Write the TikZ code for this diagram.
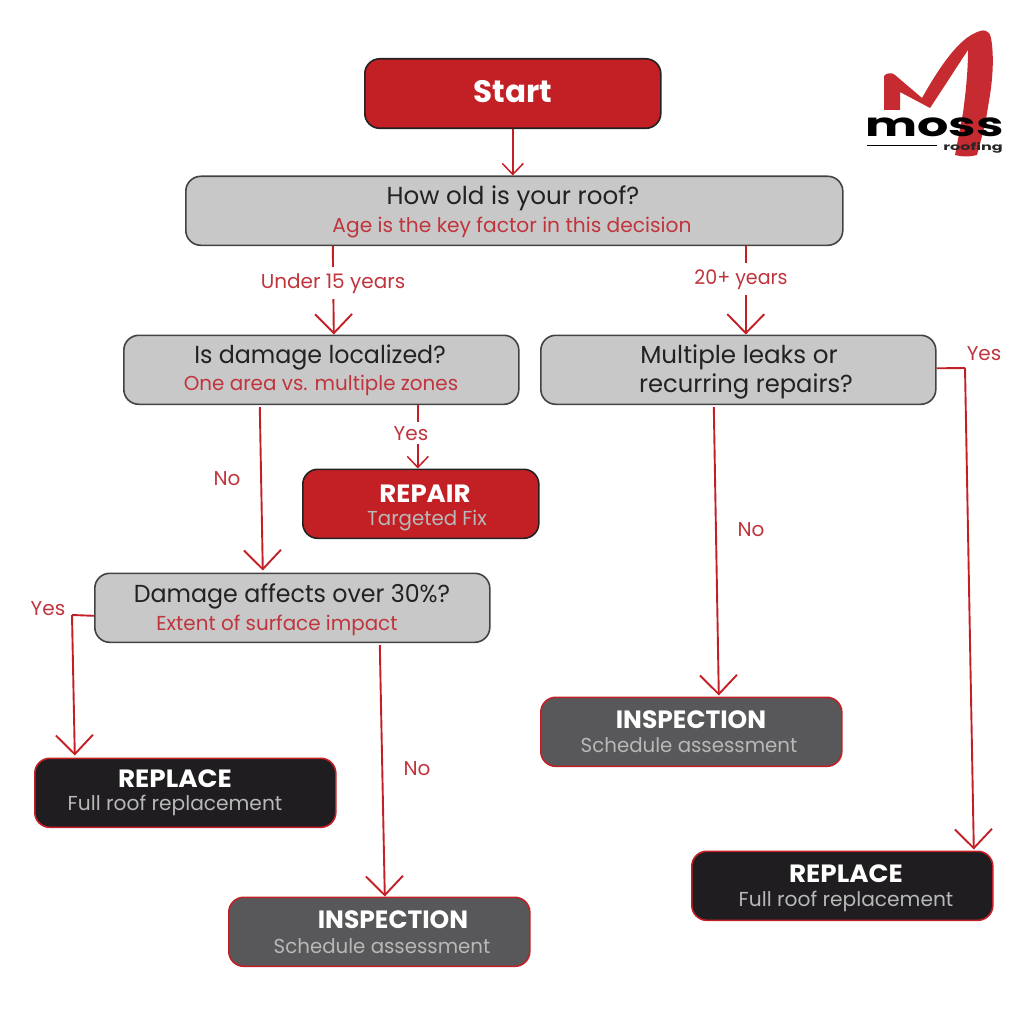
\documentclass[tikz,border=0pt]{standalone}
\usepackage{fontspec}
\setmainfont{Poppins}
\usetikzlibrary{arrows.meta,calc}
\definecolor{rd}{HTML}{C32026}
\definecolor{lab}{HTML}{C0353D}
\definecolor{gr}{HTML}{C8C8C8}
\definecolor{dk}{HTML}{1F1D20}
\definecolor{md}{HTML}{58585A}
\definecolor{ink}{HTML}{222222}
\newcommand{\fs}[1]{\fontsize{#1}{#1}\selectfont}
\tikzset{
 x=1pt,y=-1pt,
 box/.style={rounded corners=15pt,line width=1.6pt,inner sep=0pt,anchor=north west},
 startbox/.style={box,fill=rd,draw=ink},
 qbox/.style={box,fill=gr,draw=ink!85},
 repbox/.style={box,fill=dk,draw=rd},
 insbox/.style={box,fill=md,draw=rd},
 head/.style={font=\fs{24.6},text=ink,inner sep=0pt,anchor=base},
 sub/.style={font=\fs{20.2},text=lab,inner sep=0pt,anchor=base},
 tit/.style={font=\fs{25}\bfseries,text=white,inner sep=0pt,anchor=base},
 dsc/.style={font=\fs{20.2},text=white!72!black,inner sep=0pt,anchor=base},
 lbl/.style={font=\fs{20},text=lab,inner sep=0pt,anchor=base},
 big/.style={draw=rd,line width=1.9pt,-{Straight Barb[length=19pt,width=37pt,line width=1.9pt]}},
 small/.style={draw=rd,line width=1.5pt,-{Straight Barb[length=11pt,width=21pt,line width=1.5pt]}},
 plain/.style={draw=rd,line width=1.9pt},
 gap/.style={fill=white,inner xsep=2pt,inner ysep=6pt},
}
\begin{document}
\begin{tikzpicture}
\useasboundingbox (0,0) rectangle (1024,1024);
% boxes
\node[startbox,minimum width=296pt,minimum height=69.5pt] (start) at (364,58) {};
\node[qbox,minimum width=657pt,minimum height=69pt] (q1) at (185,175.5) {};
\node[qbox,minimum width=395pt,minimum height=69pt] (q2) at (123,334.5) {};
\node[qbox,minimum width=395pt,minimum height=69pt] (q3) at (540,334.5) {};
\node[startbox,minimum width=236pt,minimum height=69pt] (repair) at (302,468.5) {};
\node[qbox,minimum width=395pt,minimum height=69pt] (q4) at (94,572.5) {};
\node[repbox,minimum width=301pt,minimum height=69pt] (rep1) at (34,757.5) {};
\node[insbox,minimum width=301pt,minimum height=69pt] (ins2) at (540,696.5) {};
\node[insbox,minimum width=301pt,minimum height=69pt] (ins1) at (228,896.5) {};
\node[repbox,minimum width=301pt,minimum height=69pt] (rep2) at (691,850.5) {};
% bend points
\coordinate (b1) at (965,368);
\coordinate (b2) at (72,615);
% connectors
\draw[small] (start.south) -- (start.south |- q1.north);
\draw[big] ([xshift=-181.5pt]q1.south) -- ([xshift=-180.5pt]q1.south |- q2.north);
\draw[big] ([xshift=231.5pt]q1.south) -- ([xshift=231.5pt]q1.south |- q3.north);
\draw[big] ([xshift=-61.5pt,yshift=-2pt]q2.south) -- ([xshift=-58.5pt,yshift=2pt]q2.south |- q4.north);
\draw[small] ([xshift=96.5pt]q2.south) -- ([xshift=96.5pt]q2.south |- repair.north);
\draw[big] ([xshift=-24.5pt,yshift=-2pt]q3.south) -- ([xshift=-19.5pt,yshift=1pt]q3.south |- ins2.north);
\draw[plain] ([yshift=1.5pt]q3.east) -- (b1);
\draw[big] (b1) -- ([xshift=131.5pt,yshift=1pt]rep2.north);
\draw[plain] ([yshift=-8pt]q4.west) -- (b2);
\draw[big] (b2) -- ([xshift=-110.5pt,yshift=2pt]rep1.north);
\draw[big] ([xshift=87.5pt,yshift=-2pt]q4.south) -- ([xshift=5.5pt]ins1.north);
% connector labels
\node[lbl,gap] (l1) at (333,288) {Under 15 years};
\node[lbl,gap,xscale=.95] (l2) at (741,284) {20+ years};
\node[lbl] (l3) at (227,485) {No};
\node[lbl,gap,inner ysep=4pt] (l4) at (411,440) {Yes};
\node[lbl] (l5) at (751,536) {No};
\node[lbl] (l6) at (984,360) {Yes};
\node[lbl] (l7) at (48,615) {Yes};
\node[lbl] (l8) at (417,775) {No};
% texts
\node[font=\fs{31}\bfseries,text=white,inner sep=0pt,anchor=base] (t0) at (513,103) {Start};
\node[head] (t1) at (513,205) {How old is your roof?};
\node[sub] (s1) at (512,233) {Age is the key factor in this decision};
\node[head,xscale=.965] (t2) at (320,363) {Is damage localized?};
\node[sub,xscale=.985] (s2) at (321,390) {One area vs. multiple zones};
\node[head] (t3) at (739,363) {Multiple leaks or};
\node[head,xscale=.985] (s3) at (746,392) {recurring repairs?};
\node[tit,xscale=1.04] (t4) at (425,502) {REPAIR};
\node[dsc,xscale=.98] (s4) at (427,525) {Targeted Fix};
\node[head,xscale=.965] (t5) at (292,602) {Damage affects over 30\%?};
\node[sub,xscale=.985] (s5) at (277,630) {Extent of surface impact};
\node[tit,xscale=1.05] (t6) at (175,787) {REPLACE};
\node[dsc] (s6) at (175,810) {Full roof replacement};
\node[tit] (t7) at (691,728) {INSPECTION};
\node[dsc,xscale=.98] (s7) at (689,752) {Schedule assessment};
\node[tit] (t8) at (393,928) {INSPECTION};
\node[dsc,xscale=.98] (s8) at (382,953) {Schedule assessment};
\node[tit,xscale=1.05] (t9) at (846,882) {REPLACE};
\node[dsc] (s9) at (846,906) {Full roof replacement};
% logo
\fill[rd!95!white] (884,76) .. controls (886,73) and (892,72) .. (895,75) -- (922,98)
 .. controls (935,75) and (955,42) .. (975,33) .. controls (983,29) and (989,29) .. (991,38)
 .. controls (994,55) and (993,75) .. (990,95) -- (985,125) -- (977,155) .. controls (970,157) and (962,157) .. (955,155)
 -- (963,113) .. controls (966,90) and (968,70) .. (968,50)
 .. controls (958,65) and (942,90) .. (930,108) -- (900,92) -- (900,110) -- (884,110) -- cycle;
\node[font=\fs{33}\bfseries,text=black,inner sep=0pt,xscale=1.49,yscale=1.0] (logo1) at (934.5,127.5) {moss};
\draw[line width=0.8pt,black] (867,145) -- (937,145);
\node[font=\fs{10}\bfseries,text=black!85,inner sep=0pt,xscale=1.6] (logo2) at (973,148) {roofing};
\end{tikzpicture}
\end{document}
